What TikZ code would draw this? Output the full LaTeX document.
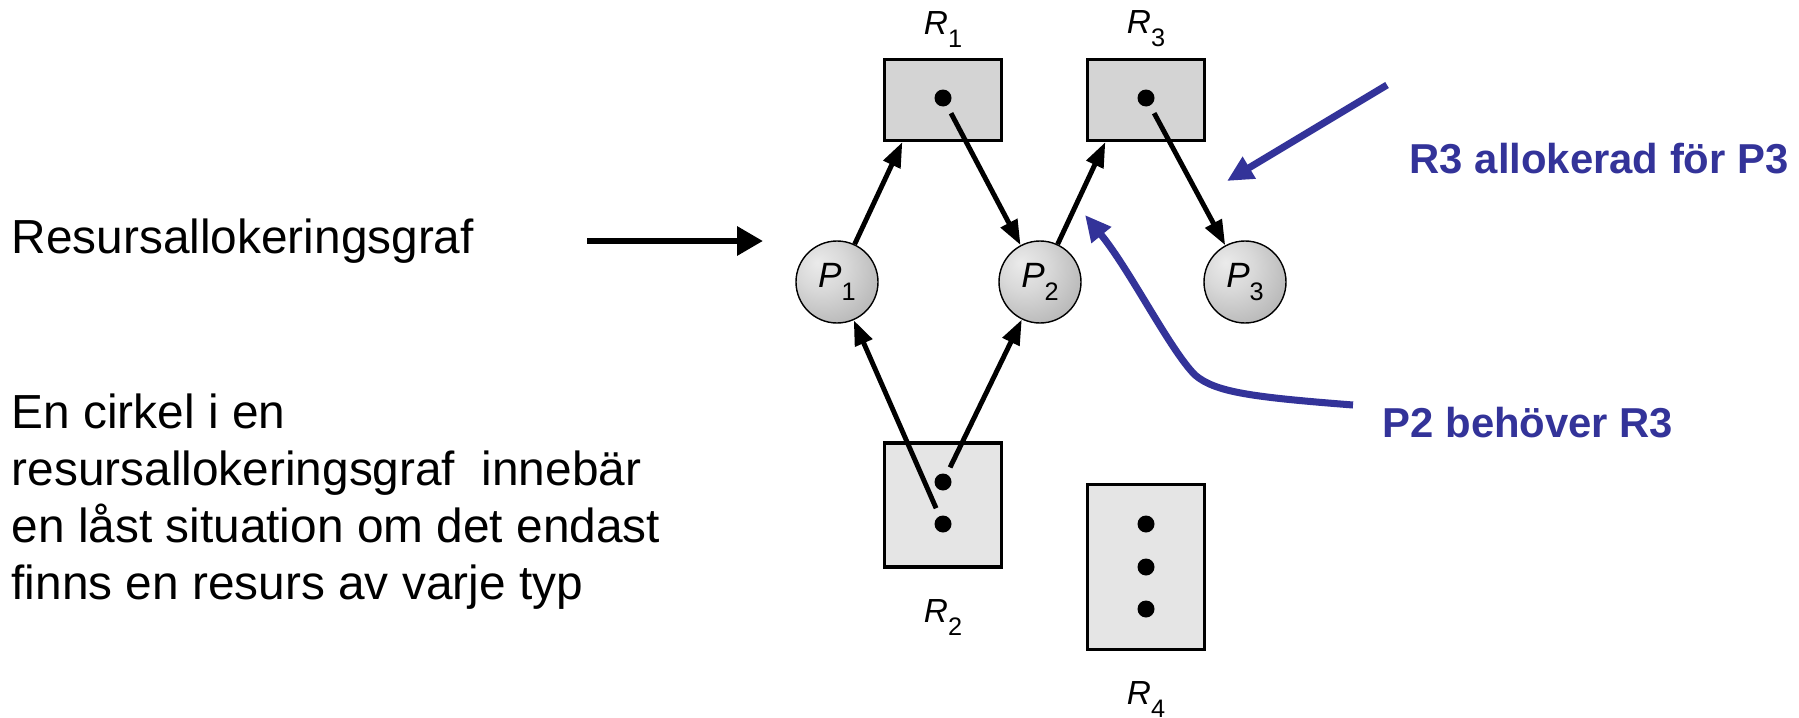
\documentclass[tikz,border=0pt]{standalone}
\usepackage{fontspec}
\setmainfont{Liberation Sans}
\usetikzlibrary{positioning,arrows.meta}

\definecolor{annot}{RGB}{51,51,153}

% shaded ball for the processes
\pgfdeclareradialshading{procball}{\pgfpoint{-12bp}{12bp}}{%
  color(0bp)=(black!8); color(15bp)=(black!15); color(35bp)=(black!28);
  color(60bp)=(black!42); color(80bp)=(black!42)}

% letter with a lowered index, as in R_1, P_2
\newcommand{\rlab}[2]{\textit{#1}\raisebox{-3.7pt}{\fontsize{7.2}{8}\selectfont #2}}

\begin{document}
\begin{tikzpicture}[x=0.1mm, y=-0.1mm,
    proc/.style={circle, draw, line width=0.4pt, minimum size=0.82cm, inner sep=0pt, shade, shading=procball, font=\fontsize{10}{11}\selectfont},
    res/.style={rectangle, draw, line width=0.9pt, minimum width=1.17cm, inner sep=0pt},
    tok/.style={circle, fill, inner sep=0pt, minimum size=0.17cm},
    lbl/.style={inner sep=0pt, font=\fontsize{9.5}{10}\selectfont},
    link/.style={-{Triangle[length=0.25cm, width=0.18cm]}, line width=1.4pt},
    ptr/.style={-{Triangle[length=0.26cm, width=0.28cm]}, line width=1.8pt},
    note/.style={annot, line width=2pt, -{Triangle[length=0.26cm, width=0.24cm]}},
    txt/.style={inner sep=0pt, font=\fontsize{13.6}{16.2}\selectfont},
    notetxt/.style={inner sep=0pt, text=annot, font=\fontsize{11.9}{14}\selectfont\bfseries}]

    \fill[white] (0,0) rectangle (1799,718);
    \useasboundingbox (0,0) rectangle (1799,718);

    % resources
    \node[res, fill=black!17, minimum height=0.81cm] (r1) at (943,100) {};
    \node[res, fill=black!17, minimum height=0.81cm] (r3) at (1146,100) {};
    \node[res, fill=black!10, minimum height=1.24cm] (r2) at (943,505) {};
    \node[res, fill=black!10, minimum height=1.65cm] (r4) at (1146,567) {};

    \node[lbl, above=0.1cm of r1] (r1l) {\rlab{R}{1}};
    \node[lbl, above=0.1cm of r3] (r3l) {\rlab{R}{3}};
    \node[lbl, below=0.3cm of r2] (r2l) {\rlab{R}{2}};
    \node[lbl, below=0.3cm of r4] (r4l) {\rlab{R}{4}};

    % instances
    \node[tok] (r1t) at (943,98) {};
    \node[tok] (r3t) at (1146,98) {};
    \node[tok] (r2a) at (943,482) {};
    \node[tok] (r2b) at (943,524) {};
    \foreach \y [count=\i] in {524,567,609}
        \node[tok] (r4\i) at (1146,\y) {};

    % processes
    \node[proc] (p1) at (837,282) {\rlab{P}{1}};
    \node[proc] (p2) at (1040,282) {\rlab{P}{2}};
    \node[proc] (p3) at (1245,282) {\rlab{P}{3}};

    % requests and assignments
    \draw[link] (p1) -- (r1.226);
    \draw[link, shorten <=0.08cm] (r1t) -- (p2);
    \draw[link] (p2) -- (r3.226);
    \draw[link, shorten <=0.08cm] (r3t) -- (p3);
    \draw[link, shorten <=0.07cm] (r2a) -- (p2);
    \draw[link, shorten <=0.08cm] (r2b) -- (p1);

    % text on the left
    \node[txt, anchor=base west] (title) at (11,253) {Resursallokeringsgraf};
    \node[txt, anchor=base west, align=left] (cycle) at (11,599)
        {En cirkel i en\\resursallokeringsgraf~ innebär\\en låst situation om det endast\\finns en resurs av varje typ};

    \coordinate (ptrS) at (587,241);
    \coordinate (ptrE) at (763,241);
    \draw[ptr] (ptrS) -- (ptrE);

    % notes
    \node[notetxt, anchor=base west] (alloc) at (1409,173) {R3 allokerad för P3};
    \node[notetxt, anchor=base west] (needs) at (1382,437) {P2 behöver R3};

    \coordinate (allocS) at (1387,85);
    \coordinate (allocE) at (1227,181);
    \draw[note] (allocS) -- (allocE);

    \coordinate (needS) at (1353,405);
    \coordinate (needE) at (1085,215);
    \draw[note] (needS) .. controls (1250,397) and (1215,392) .. (1195,375)
        .. controls (1170,350) and (1130,270) .. (needE);
\end{tikzpicture}
\end{document}
